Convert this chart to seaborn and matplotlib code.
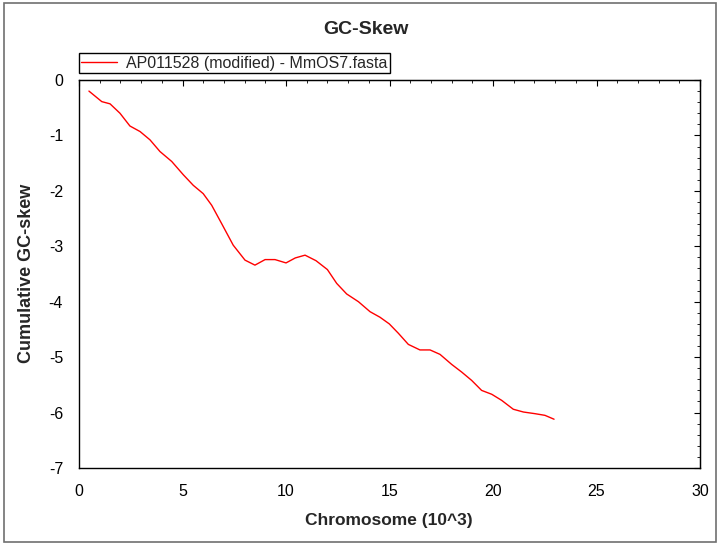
import pandas as pd
import numpy as np
import matplotlib.pyplot as plt
import seaborn as sns
from matplotlib.patches import Rectangle
from matplotlib.ticker import MultipleLocator

# cumulative GC-skew (x in 10^3 bp)
pos_kb = [0.48, 1.1, 1.5, 1.98, 2.46, 2.95, 3.43, 3.91, 4.48, 5.04, 5.52, 6.0,
          6.41, 6.89, 7.45, 8.02, 8.5, 8.99, 9.47, 10.0, 10.45, 10.92, 11.45,
          12.0, 12.45, 12.93, 13.5, 14.06, 14.54, 14.99, 15.43, 15.91, 16.47,
          16.96, 17.44, 18.0, 18.49, 18.97, 19.45, 19.94, 20.42, 20.98, 21.47,
          22.03, 22.51, 22.95]
skew = [-0.2, -0.39, -0.43, -0.6, -0.83, -0.93, -1.08, -1.29, -1.47, -1.71,
        -1.9, -2.05, -2.26, -2.59, -2.98, -3.25, -3.34, -3.24, -3.24, -3.3,
        -3.21, -3.16, -3.26, -3.42, -3.67, -3.86, -4.0, -4.18, -4.28, -4.4,
        -4.57, -4.77, -4.87, -4.87, -4.95, -5.13, -5.27, -5.42, -5.6, -5.67,
        -5.78, -5.94, -5.99, -6.02, -6.05, -6.12]
series_name = 'AP011528 (modified) - MmOS7.fasta'

sns.set_style('white')
plt.rcParams['font.family'] = ['Liberation Sans', 'DejaVu Sans']
plt.rcParams['axes.unicode_minus'] = False

df = pd.DataFrame({'x': pos_kb, 'y': skew, 'name': series_name})

fig = plt.figure(figsize=(7.18, 5.44), dpi=100)
ax = fig.add_axes([79/718, 1-468/544, 621/718, 388/544])

sns.lineplot(data=df, x='x', y='y', hue='name', palette=['#ff0000'],
             linewidth=1, ax=ax, sort=False)

ax.set_xlim(0, 30)
ax.set_ylim(-7, 0)
ax.xaxis.set_major_locator(MultipleLocator(5))
ax.xaxis.set_minor_locator(MultipleLocator(1))
ax.yaxis.set_major_locator(MultipleLocator(1))
ax.yaxis.set_minor_locator(MultipleLocator(0.2))
ax.tick_params(which='major', direction='inout', length=7, width=1,
               color='black', labelsize=11.5, labelcolor='black')
ax.tick_params(which='minor', direction='inout', length=4, width=1, color='black')
ax.tick_params(axis='x', pad=8)
ax.tick_params(axis='y', pad=8)
for s in ax.spines.values():
    s.set_color('black')
    s.set_linewidth(1)

# inward ticks on top and right sides
top = ax.secondary_xaxis('top')
top.xaxis.set_major_locator(MultipleLocator(5))
top.xaxis.set_minor_locator(MultipleLocator(1))
top.tick_params(which='major', direction='in', length=4, labeltop=False, color='black')
top.tick_params(which='minor', direction='in', length=2, color='black')
right = ax.secondary_yaxis('right')
right.yaxis.set_major_locator(MultipleLocator(1))
right.yaxis.set_minor_locator(MultipleLocator(0.2))
right.tick_params(which='major', direction='in', length=4, labelright=False, color='black')
right.tick_params(which='minor', direction='in', length=2, color='black')

ax.set_xlabel('')
ax.set_ylabel('')
fig.text(388.5/718, 1-521/544, 'Chromosome (10^3)', fontsize=12.5,
         fontweight='bold', ha='center', va='center')
fig.text(27/718, 1-273/544, 'Cumulative GC-skew', fontsize=13,
         fontweight='bold', ha='center', va='center', rotation=90)
fig.text(366/718, 1-30/544, 'GC-Skew', fontsize=14, fontweight='bold',
         ha='center', va='center')

ax.legend(loc='lower left', bbox_to_anchor=(0, 1.018), borderaxespad=0,
          fontsize=11.5, frameon=True, fancybox=False, shadow=False,
          edgecolor='black', framealpha=1, handlelength=2.2,
          handletextpad=0.6, borderpad=0.15, title=None)
ax.get_legend().get_frame().set_linewidth(1)

fig.patches.append(Rectangle((4/718, 1-542/544), 712/718, 539/544,
                             transform=fig.transFigure, fill=False,
                             edgecolor='#707070', linewidth=1.2))

fig.savefig('out.png', dpi=100)
